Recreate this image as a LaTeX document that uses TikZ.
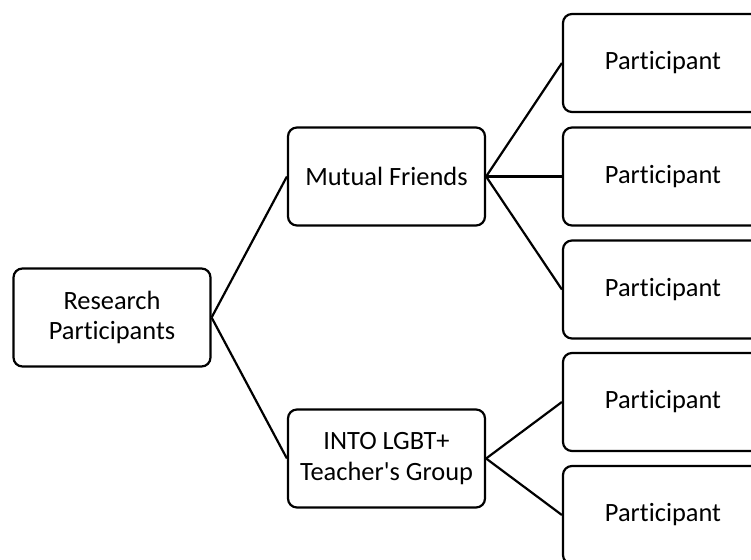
\documentclass[tikz,border=0pt]{standalone}
\usepackage{fontspec}
\setmainfont{Carlito}[Ligatures={TeXOff, NoCommon}]
\usetikzlibrary{positioning}

\begin{document}
\begin{tikzpicture}[x=1pt, y=-1pt,
	box/.style={draw, line width=2.2pt, rounded corners=9pt, minimum width=197pt, minimum height=98pt, align=center, font=\fontsize{26.4}{30.5}\selectfont},
	link/.style={line width=2.2pt}]
	\useasboundingbox (0, 0) rectangle (751, 559);
	\clip (0, 0) rectangle (751, 559);
	
	\node[box] (research) at (112, 317.5) {Research\\Participants};
	\node[box] (friends) at (386.5, 176.5) {Mutual Friends};
	\node[box] (into) at (386.5, 458.5) {INTO LGBT+\\Teacher's Group};
	
	\node[box, minimum width=200pt] (partA) at (663, 63) {Participant};
	\node[box, minimum width=200pt] (partB) at (663, 176.5) {Participant};
	\node[box, minimum width=200pt] (partC) at (663, 289.5) {Participant};
	\node[box, minimum width=200pt] (partD) at (663, 402) {Participant};
	\node[box, minimum width=200pt] (partE) at (663, 515) {Participant};
	
	\draw[link] (research.east) -- (friends.west);
	\draw[link] (research.east) -- (into.west);
	\draw[link] (friends.east) -- (partA.west);
	\draw[link] (friends.east) -- (partB.west);
	\draw[link] (friends.east) -- (partC.west);
	\draw[link] (into.east) -- (partD.west);
	\draw[link] (into.east) -- (partE.west);
\end{tikzpicture}
\end{document}
